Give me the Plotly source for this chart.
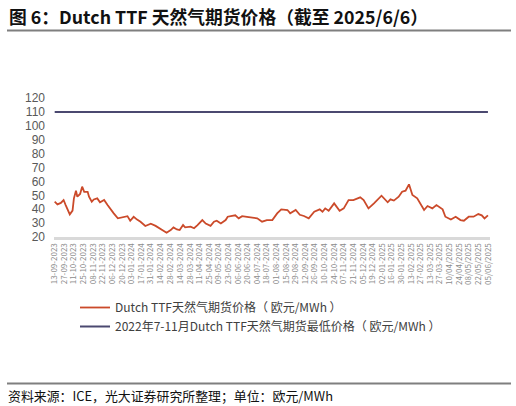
import plotly.graph_objects as go

# Dutch TTF front-month price, EUR/MWh
dates = [
    "2023-09-13", "2023-09-17", "2023-09-22", "2023-09-26", "2023-09-29", "2023-10-05",
    "2023-10-09", "2023-10-11", "2023-10-14", "2023-10-16", "2023-10-20", "2023-10-23",
    "2023-10-26", "2023-10-31", "2023-11-02", "2023-11-06", "2023-11-09", "2023-11-14",
    "2023-11-18", "2023-11-24", "2023-11-29", "2023-12-04", "2023-12-08", "2023-12-14",
    "2023-12-18", "2023-12-23", "2023-12-28", "2024-01-01", "2024-01-06", "2024-01-11",
    "2024-01-16", "2024-01-23", "2024-01-31", "2024-02-07", "2024-02-14", "2024-02-23",
    "2024-02-29", "2024-03-04", "2024-03-09", "2024-03-13", "2024-03-18", "2024-03-21",
    "2024-03-29", "2024-04-03", "2024-04-08", "2024-04-15", "2024-04-20", "2024-04-27",
    "2024-05-02", "2024-05-06", "2024-05-12", "2024-05-19", "2024-05-22", "2024-05-29",
    "2024-06-02", "2024-06-07", "2024-06-12", "2024-06-19", "2024-06-27", "2024-07-04",
    "2024-07-11", "2024-07-18", "2024-07-26", "2024-08-02", "2024-08-08", "2024-08-17",
    "2024-08-21", "2024-08-29", "2024-09-04", "2024-09-10", "2024-09-17", "2024-09-25",
    "2024-10-03", "2024-10-07", "2024-10-11", "2024-10-16", "2024-10-24", "2024-11-01",
    "2024-11-07", "2024-11-14", "2024-11-21", "2024-11-26", "2024-12-01", "2024-12-06",
    "2024-12-13", "2024-12-21", "2025-01-01", "2025-01-10", "2025-01-14", "2025-01-19",
    "2025-01-26", "2025-01-31", "2025-02-05", "2025-02-10", "2025-02-15", "2025-02-22",
    "2025-02-26", "2025-03-04", "2025-03-09", "2025-03-16", "2025-03-22", "2025-03-31",
    "2025-04-04", "2025-04-12", "2025-04-19", "2025-04-26", "2025-05-01", "2025-05-08",
    "2025-05-15", "2025-05-22", "2025-05-27", "2025-05-31", "2025-06-05",
]
ttf_price = [
    45.4, 43.5, 44.5, 46.6, 43.0, 36.3,
    39.0, 47.8, 53.3, 49.0, 51.0, 56.2,
    52.5, 52.5, 49.0, 45.4, 47.0, 47.8,
    45.0, 46.6, 43.0, 39.4, 37.0, 33.4,
    34.0, 34.5, 35.0, 31.7, 34.5, 32.5,
    31.0, 27.9, 29.5, 28.0, 25.8, 23.1,
    25.0, 26.9, 25.4, 25.0, 28.6, 27.0,
    27.5, 26.3, 28.6, 32.2, 29.7, 28.0,
    31.0, 31.7, 29.7, 32.2, 34.6, 35.0,
    35.6, 33.4, 35.0, 34.5, 33.8, 33.4,
    31.0, 32.2, 32.2, 37.0, 39.9, 39.4,
    37.0, 39.4, 36.0, 35.1, 33.4, 38.2,
    39.9, 38.2, 40.6, 38.9, 44.2, 38.9,
    40.6, 46.6, 46.6, 47.8, 48.5, 46.6,
    40.6, 44.2, 49.7, 45.0, 47.1, 46.2,
    49.0, 52.6, 53.3, 57.9, 50.2, 47.8,
    44.2, 39.4, 42.3, 40.6, 43.0, 39.9,
    34.6, 32.6, 34.6, 32.2, 31.7, 34.6,
    34.6, 36.5, 35.6, 33.4, 35.6,
]
floor_price = 110  # 2022年7-11月最低价

tick_dates = [
    "2023-09-13", "2023-09-27", "2023-10-11", "2023-10-25", "2023-11-08", "2023-11-22",
    "2023-12-06", "2023-12-20", "2024-01-03", "2024-01-17", "2024-01-31", "2024-02-14",
    "2024-02-28", "2024-03-14", "2024-03-28", "2024-04-11", "2024-04-25", "2024-05-09",
    "2024-05-23", "2024-06-06", "2024-06-20", "2024-07-04", "2024-07-18", "2024-08-01",
    "2024-08-15", "2024-08-29", "2024-09-12", "2024-09-26", "2024-10-10", "2024-10-24",
    "2024-11-07", "2024-11-21", "2024-12-05", "2024-12-19", "2025-01-02", "2025-01-16",
    "2025-01-30", "2025-02-13", "2025-02-27", "2025-03-13", "2025-03-27", "2025-04-10",
    "2025-04-24", "2025-05-08", "2025-05-22", "2025-06-05",
]
tick_labels = [
    "13-09-2023", "27-09-2023", "11-10-2023", "25-10-2023", "08-11-2023", "22-11-2023",
    "06-12-2023", "20-12-2023", "03-01-2024", "17-01-2024", "31-01-2024", "14-02-2024",
    "28-02-2024", "14-03-2024", "28-03-2024", "11-04-2024", "25-04-2024", "09-05-2024",
    "23-05-2024", "06-06-2024", "20-06-2024", "04-07-2024", "18-07-2024", "01-08-2024",
    "15-08-2024", "29-08-2024", "12-09-2024", "26-09-2024", "10-10-2024", "24-10-2024",
    "07-11-2024", "21-11-2024", "05-12-2024", "19-12-2024", "02-01-2025", "16-01-2025",
    "30-01-2025", "13-02-2025", "27-02-2025", "13-03-2025", "27-03-2025", "10/04/2025",
    "24/04/2025", "08/05/2025", "22/05/2025", "05/06/2025",
]
y_ticks = [20, 30, 40, 50, 60, 70, 80, 90, 100, 110, 120]

FONT = "Noto Sans CJK SC"
W, H = 516, 406
L, R, T, B = 54, 26, 98, 169
PW, PH = W - L - R, H - T - B


def px(x):
    return (x - L) / PW


def py(y):
    return (H - B - y) / PH


fig = go.Figure()
fig.add_trace(go.Scatter(
    x=dates, y=ttf_price, mode="lines",
    line=dict(color="#CB4A2A", width=1.8),
    name="Dutch TTF天然气期货价格（ 欧元/MWh ）",
))
fig.add_trace(go.Scatter(
    x=[dates[0], dates[-1]], y=[floor_price, floor_price], mode="lines",
    line=dict(color="#4B4970", width=2),
    name="2022年7-11月Dutch TTF天然气期货最低价格（ 欧元/MWh ）",
))

fig.update_layout(
    width=W, height=H,
    margin=dict(l=L, r=R, t=T, b=B),
    paper_bgcolor="white", plot_bgcolor="white",
    font=dict(family=FONT, color="#404040"),
    showlegend=True,
    legend=dict(
        x=px(75), y=py(293), xanchor="left", yanchor="top",
        font=dict(size=12, color="#404040"),
        itemwidth=30, tracegroupgap=0,
        bgcolor="rgba(0,0,0,0)",
    ),
    xaxis=dict(
        type="date",
        range=["2023-09-12", "2025-06-08"],
        tickmode="array", tickvals=tick_dates, ticktext=tick_labels,
        tickangle=-90, tickfont=dict(size=8, color="#8C8C8C"),
        showgrid=False, zeroline=False,
        showline=True, linecolor="#D9D9D9", linewidth=3,
        ticks="",
    ),
    yaxis=dict(
        range=[20, 120],
        tickmode="array", tickvals=y_ticks,
        tickfont=dict(family="Liberation Sans", size=12, color="#595959"),
        showgrid=False, zeroline=False, showline=False,
        ticklabelstandoff=8,
    ),
)

# title, rules and source note
fig.add_annotation(
    x=px(7), y=py(16), xref="paper", yref="paper",
    xanchor="left", yanchor="middle", showarrow=False,
    text="<b>图 6：Dutch TTF 天然气期货价格（截至 2025/6/6）</b>",
    font=dict(family=FONT, size=17.8, color="#111111"),
)
fig.add_shape(
    type="line", xref="paper", yref="paper",
    x0=px(7), x1=px(511), y0=py(30.5), y1=py(30.5),
    line=dict(color="#7F7F7F", width=2),
)
fig.add_shape(
    type="line", xref="paper", yref="paper",
    x0=px(7), x1=px(511), y0=py(383.5), y1=py(383.5),
    line=dict(color="#7F7F7F", width=2),
)
fig.add_annotation(
    x=px(6), y=py(395), xref="paper", yref="paper",
    xanchor="left", yanchor="middle", showarrow=False,
    text="资料来源：ICE，光大证券研究所整理；单位：欧元/MWh",
    font=dict(family=FONT, size=12.9, color="#111111"),
)

# page body has a default 8px margin; drop it so the figure fills the window
fig.write_html("out.html", config={"displayModeBar": False},
               post_script="document.body.style.margin='0';")
